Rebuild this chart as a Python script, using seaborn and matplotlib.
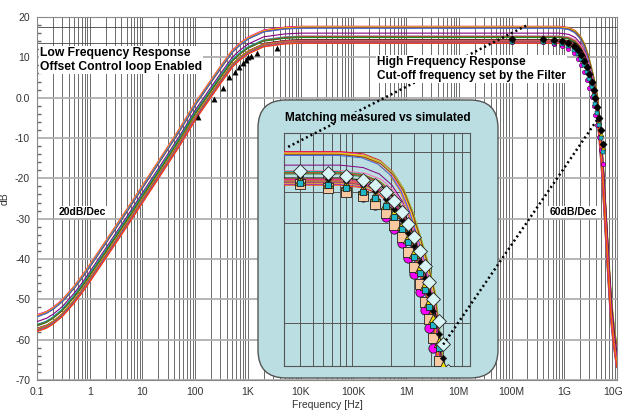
import matplotlib
matplotlib.use("Agg")
import matplotlib.pyplot as plt
import seaborn as sns
import pandas as pd
from matplotlib.patches import FancyBboxPatch
from matplotlib.lines import Line2D
from matplotlib.transforms import ScaledTranslation
from matplotlib.ticker import FixedLocator, FixedFormatter, LogLocator, NullFormatter, MultipleLocator

# ---- data ----
FREQ_HZ = [0.1, 0.15, 0.2, 0.3, 0.5, 0.7, 1, 2, 5, 10, 20, 50, 100, 200, 300, 500, 700,
           1e3, 2e3, 5e3, 1e4, 1e5, 1e6, 1e7, 1e8, 5e8, 8e8, 1.2e9, 1.6e9, 2.0e9, 2.4e9,
           2.8e9, 3.2e9, 3.7e9, 4.2e9, 4.7e9, 5.3e9, 6.0e9, 6.8e9, 7.6e9, 8.6e9, 1.0e10]
NOMINAL_DB = [-54.0, -53.2, -52.2, -50.3, -47.0, -44.5, -41.6, -35.8, -28.0, -22.0, -16.0,
              -8.0, -1.5, 4.2, 7.5, 11.5, 13.3, 14.8, 16.6, 17.3, 17.5, 17.5, 17.5, 17.5,
              17.5, 17.5, 17.5, 17.2, 16.4, 15.0, 13.0, 10.3, 7.3, 3.8, 0.0, -7.0, -16.0,
              -28.0, -40.0, -50.0, -57.0, -63.0]
NOMINAL_GAIN = 17.5

# passband gain and cut-off spread of each simulated run
CURVE_GAIN_DB = [17.7, 17.6, 17.5, 17.5, 17.4, 17.3, 17.2, 16.0, 15.3, 15.2, 15.1, 15.0,
                 14.9, 14.4, 14.3, 14.2, 14.1, 14.0, 14.0, 13.9, 13.8, 13.7, 13.6, 13.5]
CURVE_FSCALE = [1.02, 0.98, 1.04, 1.0, 0.96, 1.03, 0.99, 1.01, 1.05, 0.97, 1.02, 1.0,
                0.98, 1.06, 1.03, 1.0, 0.97, 1.04, 1.01, 0.99, 1.05, 1.02, 0.98, 1.0]
CURVE_COLORS = ["#e41a1c", "#ff00ff", "#9acd32", "#ffd700", "#ff8c00", "#8b4513",
                "#4169e1", "#800080", "#ff69b4", "#00a0a0", "#808000", "#dc143c",
                "#228b22", "#000000", "#a0522d", "#ff1493", "#b8860b", "#9932cc",
                "#ff6347", "#6b8e23", "#c71585", "#daa520", "#8a2be2", "#ff4500"]

# low frequency measurement (black triangles)
LF_MEAS_F = [113, 228, 338, 440, 572, 681, 811, 925, 1009, 1148, 1496, 3581]
LF_MEAS_DB = [-4.8, -0.3, 2.4, 5.1, 6.4, 7.6, 8.6, 9.4, 10.1, 10.3, 11.1, 12.3]

# high frequency measurements
HF_MEAS_F = [1.0e8, 4.0e8, 6.5e8, 9.0e8, 1.2e9, 1.5e9, 1.8e9, 2.1e9, 2.4e9, 2.7e9,
             3.0e9, 3.3e9, 3.6e9, 3.9e9, 4.2e9, 4.6e9, 5.0e9, 5.4e9]
BLACK_DB = [14.6, 14.6, 14.3, 14.0, 13.5, 12.8, 11.8, 10.6, 9.2, 7.6, 5.9, 4.0, 2.0, 0.0,
            -2.2, -5.0, -8.0, -11.5]
DIAMOND_DB = [15.3, 15.3, 15.0, 14.7, 14.2, 13.5, 12.6, 11.5, 10.2, 8.7, 7.1, 5.3, 3.4,
              1.4, -0.7, -3.4, -6.3, -9.6]
YELLOW_DB = [14.2, 14.2, 13.8, 13.5, 13.0, 12.2, 11.2, 10.0, 8.5, 6.9, 5.1, 3.2, 1.1,
             -1.0, -3.2, -6.0, -9.0, -12.5]
CYAN_DB = [13.8, 13.8, 13.5, 13.2, 12.7, 11.9, 10.9, 9.6, 8.1, 6.4, 4.6, 2.6, 0.5, -1.6,
           -3.9, -6.8, -10.0, -13.5]
PEACH_DB = [13.6, 13.6, 13.1, 12.7, 12.1, 11.2, 10.0, 8.6, 7.0, 5.2, 3.3, 1.2, -1.0, -3.2,
            -5.5, -8.4, -11.5, -15.0]
MAGENTA_DB = [13.9, 13.9, 13.3, 12.8, 12.0, 11.0, 9.6, 8.0, 6.3, 4.4, 2.4, 0.2, -2.0,
              -4.3, -6.8, -9.8, -13.0, -16.5]

X_TICKS = [0.1, 1, 10, 100, 1e3, 1e4, 1e5, 1e6, 1e7, 1e8, 1e9, 1e10]
X_LABELS = ["0.1", "1", "10", "100", "1K", "10K", "100K", "1M", "10M", "100M", "1G", "10G"]
Y_TICKS = [-70, -60, -50, -40, -30, -20, -10, 0, 10, 20]
Y_LABELS = ["-70", "-60", "-50", "-40", "-30", "-20", "-10", "0.0", "10", "20"]
REF_LEVELS = [17.5, 13.6]
INSET_HLINES = [17.6, 12.6, 8.8, -3.6]

# ---- build long table of simulated runs ----
rows = []
for i, (g, s) in enumerate(zip(CURVE_GAIN_DB, CURVE_FSCALE)):
    for f, d in zip(FREQ_HZ, NOMINAL_DB):
        rows.append({"run": i, "freq": f * s, "db": d + g - NOMINAL_GAIN})
sim = pd.DataFrame(rows)

sns.set_theme(style="white")
plt.rcParams["font.family"] = ["Liberation Sans", "DejaVu Sans"]

W, H = 623, 415
fig = plt.figure(figsize=(W / 100, H / 100), dpi=100)
ax = fig.add_axes([37 / W, 1 - 380 / H, 580 / W, 363 / H])

TEAL = "#badee2"
GRID_DARK = "#555555"


def style_log_axis(a):
    a.set_xscale("log")
    a.xaxis.set_minor_locator(LogLocator(base=10, subs=range(2, 10), numticks=30))
    a.xaxis.set_minor_formatter(NullFormatter())


# main simulated bundle
sns.lineplot(data=sim, x="freq", y="db", hue="run", palette=CURVE_COLORS, estimator=None,
             linewidth=0.8, legend=False, ax=ax, zorder=3)
style_log_axis(ax)
ax.set_xlim(0.1, 1e10)
ax.set_ylim(-70, 20)
ax.xaxis.set_major_locator(FixedLocator(X_TICKS))
ax.xaxis.set_major_formatter(FixedFormatter(X_LABELS))
ax.yaxis.set_major_locator(FixedLocator(Y_TICKS))
ax.yaxis.set_major_formatter(FixedFormatter(Y_LABELS))
ax.yaxis.set_minor_locator(MultipleLocator(2))
ax.grid(True, which="major", axis="y", color="#b0b0b0", linewidth=1.3, zorder=0)
ax.grid(True, which="both", axis="x", color=GRID_DARK, linewidth=0.6, zorder=0)
for lvl in REF_LEVELS:
    ax.axhline(lvl, color="#444444", linewidth=0.6, zorder=1)
ax.tick_params(axis="both", which="major", labelsize=7.5, labelcolor="#333333",
               length=3, color="#666666", pad=2)
ax.tick_params(axis="y", which="minor", direction="in", length=3, color="#666666", left=True)
ax.tick_params(axis="x", which="minor", length=0)
for sp in ax.spines.values():
    sp.set_color("#888888")
    sp.set_linewidth(0.8)
ax.set_xlabel("Frequency [Hz]", fontsize=7.5, color="#333333", labelpad=2)
ax.set_ylabel("dB", fontsize=7.5, color="#333333", labelpad=4)
last = ax.get_xticklabels()[-1]
last.set_transform(last.get_transform() + ScaledTranslation(-0.04, 0, fig.dpi_scale_trans))

# measurements on main plot
sns.scatterplot(x=LF_MEAS_F, y=LF_MEAS_DB, marker="^", color="black", s=18,
                linewidth=0, ax=ax, zorder=4)
main_sets = [(MAGENTA_DB, "o", "#ff00ff", 10), (YELLOW_DB, "^", "#f0e000", 12),
             (CYAN_DB, "s", "#20b8c8", 9), (BLACK_DB, "D", "black", 14)]
for vals, mk, col, sz in main_sets:
    sns.scatterplot(x=HF_MEAS_F, y=vals, marker=mk, color=col, s=sz, linewidth=0.3,
                    edgecolor="black", ax=ax, zorder=5)

# annotations (figure level so they sit above the dotted pointers)
bold = dict(fontweight="bold", color="black", zorder=9)
box = dict(facecolor="white", edgecolor="none", pad=0.6)
fig.text(40 / W, 1 - 47 / H, "Low Frequency Response\nOffset Control loop Enabled",
         ha="left", va="top", linespacing=1.25, bbox=box, fontsize=8.7, **bold)
fig.text(377 / W, 1 - 56 / H, "High Frequency Response\nCut-off frequency set by the Filter",
         ha="left", va="top", linespacing=1.25, bbox=box, fontsize=8.5, **bold)
fig.text(82 / W, 1 - 212 / H, "20dB/Dec", ha="center", va="center", fontsize=7.5,
         bbox=box, **bold)
fig.text(573 / W, 1 - 212 / H, "60dB/Dec", ha="center", va="center", fontsize=7.5,
         bbox=box, **bold)

# inset rounded panel
panel = FancyBboxPatch((258 / W, 1 - 378 / H), 240 / W, 278 / H,
                       boxstyle="round,pad=0,rounding_size=0.045",
                       mutation_aspect=W / H, transform=fig.transFigure,
                       facecolor=TEAL, edgecolor="#555555", linewidth=1.0, zorder=4)
fig.patches.append(panel)
fig.text(378 / W, 1 - 118 / H, "Matching measured vs simulated", ha="center", va="center",
         fontsize=8.5, bbox=dict(facecolor=TEAL, edgecolor="none", pad=0.3), **bold)

axin = fig.add_axes([284 / W, 1 - 366 / H, 186 / W, 233 / H])
axin.set_zorder(5)
axin.set_facecolor(TEAL)
sns.lineplot(data=sim, x="freq", y="db", hue="run", palette=CURVE_COLORS, estimator=None,
             linewidth=0.7, legend=False, ax=axin, zorder=3)
style_log_axis(axin)
axin.set_xlim(3e8, 8e9)
axin.set_ylim(-9, 20)
axin.grid(True, which="both", axis="x", color=GRID_DARK, linewidth=0.7, zorder=0)
for lvl in INSET_HLINES:
    axin.axhline(lvl, color=GRID_DARK, linewidth=0.7, zorder=0)
axin.tick_params(which="both", length=0, labelbottom=False, labelleft=False)
axin.set_xlabel("")
axin.set_ylabel("")
for sp in axin.spines.values():
    sp.set_color(GRID_DARK)
    sp.set_linewidth(0.8)
inset_sets = [(MAGENTA_DB, "o", "#ff00ff", 45), (PEACH_DB, "s", "#f8c8a0", 45),
              (YELLOW_DB, "^", "#f0e000", 55), (CYAN_DB, "s", "#20b8c8", 25),
              (BLACK_DB, "D", "black", 10), (DIAMOND_DB, "D", "#d8f4f4", 50)]
for vals, mk, col, sz in inset_sets:
    sns.scatterplot(x=HF_MEAS_F, y=vals, marker=mk, color=col, s=sz, linewidth=0.6,
                    edgecolor="#222222", ax=axin, zorder=5)

# dotted pointers
for (x0, y0), (x1, y1) in [((5.8e3, -12.2), (2.0e8, 18.0)), ((5.06e6, -61.2), (4.2e9, -5.5))]:
    fig.lines.append(Line2D([x0, x1], [y0, y1], transform=ax.transData, color="black",
                            linewidth=1.8, linestyle=(0, (0.8, 1.2)), zorder=8))

fig.savefig("out.png", dpi=100)
plt.close(fig)
